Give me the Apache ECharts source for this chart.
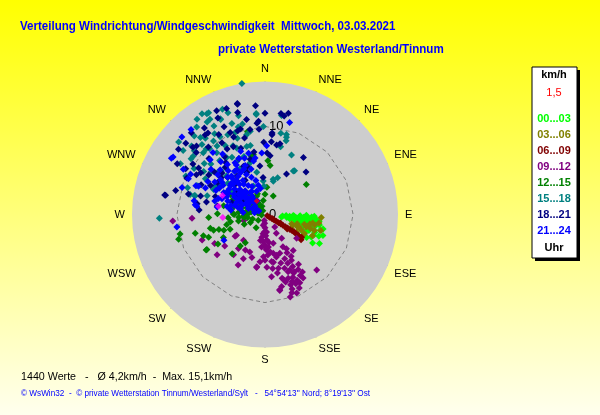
<!DOCTYPE html>
<html><head><meta charset="utf-8">
<script src="https://cdn.jsdelivr.net/npm/echarts@6/dist/echarts.min.js"></script>
<style>html,body{margin:0;padding:0;}#c{width:600px;height:415px;}</style>
</head><body><div id="c"></div>
<script>
// compass direction labels (every 22.5 degrees)
const dirLabels = ['N','NNE','NE','ENE','E','ESE','SE','SSE','S','SSW','SW','WSW','W','WNW','NW','NNW'];
// legend entries (time slots)
const slotLabels = ['00...03','03...06','06...09','09...12','12...15','15...18','18...21','21...24'];
const slotColors = ['#00ff00','#808000','#800000','#800080','#008000','#008080','#000080','#0000ff'];
// grid ring value (km/h)
const ringValue = 10;
// data: [speed km/h, direction deg]
const s0003 = [[1.9,99],[2.4,93],[3.2,92],[3.95,93],[4.7,91],[5.3,93],[5.5,99],[5.0,102],[4.2,99],[3.45,101],[2.85,100],[6.5,106],[7.0,110],[5.85,116],[5.4,119],[7.0,118],[6.3,121],[4.8,115],[6.3,101],[5.8,95],[3.5,95],[4.0,97],[4.5,96],[5.0,95],[3.0,97],[2.5,98],[4.2,103],[4.8,100],[5.5,97],[3.8,105],[4.5,108],[5.2,105],[6.0,100],[6.0,110],[5.8,104],[2.0,95],[3.3,93],[6.8,104],[4.0,92],[5.6,92],[3.6,100],[4.4,94],[5.1,98],[5.7,101],[6.2,97],[4.0,101],[4.6,102],[5.3,110],[6.0,113],[6.6,112],[2.8,94],[3.9,109],[5.0,112]];
const s0306 = [[6.4,93],[6.2,99],[5.9,114],[4.5,113],[4.9,107],[5.2,102],[4.0,111],[3.4,111],[3.4,118],[4.1,119],[5.0,116],[5.9,108],[5.75,102],[5.5,100],[5.4,107],[6.6,106],[3.2,109],[4.1,110],[4.6,104],[3.8,106]];
const s0609 = [[0.3,121],[0.6,121],[0.9,121],[1.2,121],[1.5,121],[1.8,121],[2.1,121],[2.4,121],[2.7,121],[3.0,121],[3.3,121],[3.6,121],[3.9,121],[4.2,122],[4.5,122],[4.9,122],[5.0,125],[2.0,119],[3.0,123],[1.0,118]];
const s0912 = [[0.7,187],[1.25,189],[2.0,182],[2.6,188],[3.1,184],[3.7,186],[2.9,176],[3.7,174],[4.3,172],[3.4,164],[2.5,149],[3.3,145],[4.2,151],[4.7,159],[4.8,164],[5.5,156],[6.1,155],[6.9,156],[7.4,154],[8.3,154],[7.3,153],[7.3,149],[8.2,158],[7.7,164],[8.4,167],[8.8,169],[9.4,161],[9.6,158],[8.4,149],[8.6,137],[7.1,174],[6.3,166],[5.4,172],[4.8,182],[6.0,189],[5.4,186],[4.6,202],[6.5,208],[5.6,206],[4.6,209],[4.9,218],[5.8,218],[3.8,220],[4.0,234],[2.5,254],[1.8,142],[4.5,127],[6.7,152],[7.7,160],[8.7,153],[4.6,148],[5.2,142],[10.5,266],[8.3,267],[7.7,248],[7.1,230],[5.8,232],[4.2,234],[6.6,240],[5.1,197],[6.1,189],[8.7,169],[1.5,180],[2.2,186],[3.0,190],[3.5,180],[4.0,178],[4.5,168],[5.0,165],[5.8,162],[6.5,160],[7.0,158],[7.8,156],[8.0,150],[9.0,160],[6.0,150],[5.0,150],[2.0,175],[3.8,178],[4.6,176],[5.5,170],[6.2,172],[6.8,168],[7.5,165],[8.0,163],[8.5,160],[9.2,155],[6.8,146],[7.8,147],[5.6,148],[3.2,172],[1.0,182],[2.4,178],[8.6,156],[9.8,163],[6.0,178],[5.2,180]];
const s1215 = [[6.4,267],[9.9,257],[10.2,254],[8.2,255],[7.4,251],[6.4,256],[7.7,239],[5.5,252],[6.3,238],[5.4,241],[4.3,247],[5.8,220],[4.55,218],[3.9,215],[1.8,214],[1.9,241],[4.5,255],[3.1,256],[7.8,239],[3.0,264],[2.1,277],[1.3,300],[1.16,331],[1.8,312],[1.6,353],[2.3,0],[2.3,24],[5.6,6],[5.8,54],[6.8,347],[4.8,282],[5.4,271],[4.0,258],[3.6,271],[2.9,295],[3.0,321],[2.3,336],[3.1,4],[0.4,260],[6.9,248],[6.1,253],[5.0,249],[6.1,3],[6.9,349],[9.6,348],[1.0,300],[1.5,305],[2.0,300],[2.5,310],[1.2,320],[2.2,290],[2.8,300],[3.2,305],[0.8,280],[1.8,285],[2.4,275],[3.5,290],[1.5,330],[2.5,340],[0.6,310],[3.0,285],[4.0,295],[2.0,260],[1.5,250],[2.6,245],[1.0,230],[0.8,300],[1.2,290],[1.6,280],[2.0,270],[2.5,265],[3.0,275],[3.5,270],[1.4,310],[2.2,320],[2.6,325],[3.4,315],[1.9,295],[2.8,285],[3.8,280],[4.2,265],[0.5,330],[1.0,340],[3.3,300],[4.5,300],[2.4,262]];
const s1518 = [[13.2,331],[13.3,324.5],[12.4,328],[11.9,335],[11.6,345],[11.4,355],[10.0,359],[9.6,350],[11.4,320],[10.2,325],[10.2,330],[11.8,308],[10.5,309],[9.9,315],[10.7,318],[10.5,307],[8.4,313],[8.9,322],[7.8,326],[8.2,337],[9.9,340],[10.6,346],[9.3,347],[8.0,348],[8.8,285],[8.4,293],[10.0,296],[11.2,301],[7.9,301],[7.2,311],[7.0,320],[5.9,331],[6.1,344],[4.9,349],[3.8,357],[3.5,338],[5.2,314],[6.5,296],[6.9,288],[8.2,285],[15.1,350],[13.2,330],[11.5,355],[11.4,9.5],[9.4,15],[7.4,24],[5.9,33],[4.1,13],[3.2,358],[12.0,268],[9.3,289],[8.3,285],[9.4,11],[9.1,15.5],[8.7,16],[7.9,13],[6.0,34],[4.4,19],[3.9,14],[5,320],[6,325],[7,315],[8,320],[9,330],[10,335],[7,340],[8,345],[9,310],[6,305],[10,318],[11,322],[12,335],[5.5,335],[6.5,300],[4.5,305],[9.5,325],[11,340],[12.5,330],[9.8,320],[10.8,328],[11.6,330],[12,318],[12.6,322],[8.5,305],[9.6,303],[10.8,312],[7.5,330],[6.8,332],[8.6,335],[9.2,340],[10.4,343],[12.3,340],[6.2,315],[5.5,310],[7.8,308],[11.4,313],[12.8,310],[13.5,328],[12.9,338]];
const s1821 = [[13.0,346],[12.4,355],[12.2,334],[11.0,349],[10.6,356],[11.3,325],[11.3,323],[10.1,337],[10.1,344],[9.7,356],[12.3,307],[12.1,312],[11.2,313],[10.5,312],[9.5,329],[8.6,330],[11.5,281],[10.4,300],[9.8,295],[9.2,305],[8.7,303],[7.8,305],[7.6,286],[7.8,279],[7.5,274],[7.0,298],[6.5,304],[5.4,324],[5.2,337],[5.55,354],[7.0,2],[8.2,359],[6.5,345],[6.0,336],[7.4,323],[6.8,314],[12.9,346],[11.5,0],[11.6,9],[11.8,13],[9.1,5],[8.2,12],[7.8,34],[6.7,44],[5.2,28],[4.2,357],[11.6,281],[11.4,11],[8.3,5],[8.0,9.5],[6.7,5],[10.4,355],[9.3,5],[4,310],[5,320],[6,315],[7,320],[8,325],[9,315],[10,320],[5,300],[6,290],[7,335],[8,340],[9,345],[4.5,330],[3.5,320],[6.5,310],[10.5,330],[11,315],[3,300],[4,290],[5.5,280],[8.5,335],[9.5,338],[10,342],[11,335],[12,325],[12.5,318],[9,300],[8,295],[10,305],[11.5,300],[6,300],[7.5,310],[4.8,315],[3.8,305],[5.8,340],[7.2,350],[9.8,350],[12,345],[12.8,340],[13,335],[10.5,285],[9,285],[6.8,282]];
const s2124 = [[12.8,319],[12.9,313],[12.3,302],[9.6,298.5],[8.5,292.5],[9.9,288],[7.4,294],[7.1,323],[5.8,319],[5.7,335],[6.2,348],[7.0,357],[7.8,1.4],[5.3,298],[3.5,294],[3.25,311],[3.0,326],[5.1,310],[5.6,289],[8.2,281],[7.8,277],[2.2,323],[3.4,347],[2.9,283],[4.0,279],[6.1,307],[6.8,330],[12.4,301],[10.6,299],[9.6,295],[8.0,278],[10.1,262],[5.5,238],[10.8,15],[8.2,293],[5.9,285],[5.5,279],[1,300],[1.5,310],[2,320],[2.5,300],[3,310],[3.5,320],[4,300],[4.5,310],[5,320],[2,290],[3,295],[4,315],[5,305],[6,315],[3.8,330],[2.8,340],[1.8,330],[4.2,325],[5.5,330],[6.5,320],[2.2,305],[3.2,285],[4.5,290],[1.2,280],[2.5,275],[3.5,300],[4.8,300],[5.2,312],[6,300],[7,310],[2.6,315],[3.3,305],[1.6,295],[4,285],[0.8,300],[4,314],[4.5,320],[5,314],[5.5,318],[6,325],[6.5,330],[7,335],[7.7,339],[7.2,345],[6.8,340],[6,338],[5,335],[4.5,340],[3.5,335],[3,330],[2.5,325],[3.8,308],[4.2,303],[4.8,295],[5.2,290],[3.6,287],[2.8,292],[2.2,298],[3.9,277],[4.4,282],[5.0,300],[5.8,305],[6.4,308],[7.2,315],[7.8,320],[8.4,325],[6,328],[5.3,325],[4.6,327],[3.2,318],[2.4,310],[1.8,318],[2.8,312],[3.6,312],[6.2,296],[6.8,303],[7.5,300],[8,310],[8.8,315],[9.2,320],[5.4,343],[4.0,345],[3.0,350],[6.5,350]];
const sMagenta = [[5.3,294],[4.8,266],[5.35,280]];
const sRed = [[1.8,329]];

const slotData = [s0003,s0306,s0609,s0912,s1215,s1518,s1821,s2124];

const ringData = dirLabels.map((d,i)=>[ringValue, i*22.5]).concat([[ringValue,360]]);

const series = [{
  type:'line', coordinateSystem:'polar', data: ringData, symbol:'none', silent:true,
  lineStyle:{color:'#808080', width:1, type:[4,3]}, z:1
}];
slotData.forEach((d,i)=>{
  series.push({type:'scatter', coordinateSystem:'polar', name:slotLabels[i], data:d,
    symbol:'diamond', symbolSize:7, itemStyle:{color:slotColors[i], opacity:1}, z:2});
});
series.push({type:'scatter', coordinateSystem:'polar', data:sMagenta, symbol:'diamond', symbolSize:7, itemStyle:{color:'#ff00ff'}, z:2});
series.push({type:'scatter', coordinateSystem:'polar', data:sRed, symbol:'diamond', symbolSize:6, itemStyle:{color:'#ff0000'}, z:2});

const LF = '"Liberation Sans", Arial, sans-serif';
const legendTexts = [];
slotLabels.forEach((t,i)=>{
  legendTexts.push({type:'text', style:{x:554, y:119+i*16, text:t, fill:slotColors[i], font:'bold 11px '+LF, textAlign:'center', textVerticalAlign:'middle'}});
});

const chart = echarts.init(document.getElementById('c'));
chart.setOption({
  animation:false,
  backgroundColor:{type:'linear',x:0,y:0,x2:0,y2:1,colorStops:[{offset:0,color:'#ffff00'},{offset:1,color:'#ffffee'}]},
  polar:{center:[265,214.5], radius:133},
  angleAxis:{type:'value', min:0, max:360, interval:22.5, startAngle:90, clockwise:true,
    axisLine:{show:false}, axisTick:{show:false},
    axisLabel:{margin:7, color:'#000', fontSize:11, fontFamily:LF,
      formatter:v=>dirLabels[Math.round(v/22.5)%16]},
    splitLine:{show:true, lineStyle:{color:'#808080', width:1, type:[4,3]}},
    splitArea:{show:true, areaStyle:{color:['#cdcdcd']}}
  },
  radiusAxis:{type:'value', min:0, max:15.1, interval:10,
    axisLine:{show:false}, axisTick:{show:false}, splitLine:{show:false},
    axisLabel:{show:true, margin:-4, align:'left', color:'#000', fontSize:13, fontFamily:LF,
      formatter:v=> (v===0||v===10)? String(v):''}
  },
  graphic:[
    {type:'text', x:20, y:26, scaleX:0.889, style:{x:0, y:0, text:'Verteilung Windrichtung/Windgeschwindigkeit  Mittwoch, 03.03.2021', fill:'#0000ff', font:'bold 13px '+LF, textVerticalAlign:'middle'}},
    {type:'text', x:218, y:49, scaleX:0.893, style:{x:0, y:0, text:'private Wetterstation Westerland/Tinnum', fill:'#0000ff', font:'bold 13px '+LF, textVerticalAlign:'middle'}},
    {type:'rect', shape:{x:535, y:70, width:45, height:191}, style:{fill:'#000'}},
    {type:'rect', shape:{x:532, y:67, width:45, height:191}, style:{fill:'#fff', stroke:'#000', lineWidth:1}},
    {type:'text', style:{x:554, y:75, text:'km/h', fill:'#000', font:'bold 11px '+LF, textAlign:'center', textVerticalAlign:'middle'}},
    {type:'text', style:{x:554, y:93, text:'1,5', fill:'#ff0000', font:'11px '+LF, textAlign:'center', textVerticalAlign:'middle'}},
    ...legendTexts,
    {type:'text', style:{x:554, y:248, text:'Uhr', fill:'#000', font:'bold 11px '+LF, textAlign:'center', textVerticalAlign:'middle'}},
    {type:'text', style:{x:21, y:377, text:'1440 Werte   -   Ø 4,2km/h  -  Max. 15,1km/h', fill:'#000', font:'10.7px '+LF, textVerticalAlign:'middle'}},
    {type:'text', style:{x:21, y:394, text:"© WsWin32  -  © private Wetterstation Tinnum/Westerland/Sylt   -   54°54'13'' Nord; 8°19'13'' Ost", fill:'#0000ff', font:'8.2px '+LF, textVerticalAlign:'middle'}}
  ],
  series:series
});
</script></body></html>
